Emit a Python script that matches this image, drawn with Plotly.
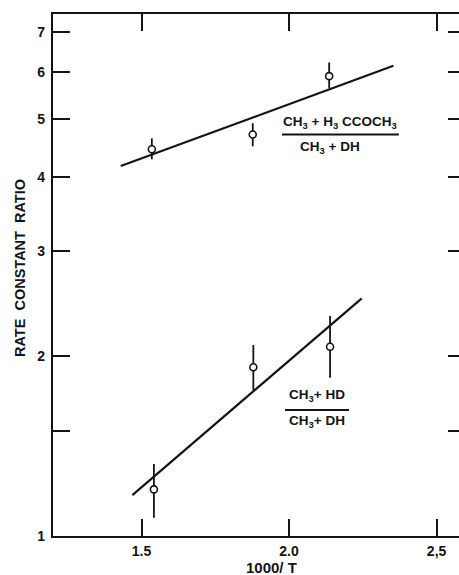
import numpy as np
import plotly.graph_objects as go

# Measured rate-constant ratios (log scale) vs 1000/T
x_acetone = [1.535, 1.877, 2.136]
y_acetone = [4.45, 4.71, 5.90]
err_hi_acetone = [4.64, 4.92, 6.22]
err_lo_acetone = [4.28, 4.50, 5.63]

x_hd = [1.542, 1.879, 2.139]
y_hd = [1.197, 1.918, 2.076]
err_hi_hd = [1.32, 2.09, 2.337]
err_lo_hd = [1.073, 1.757, 1.842]

# Least-squares lines drawn through each set
fit_x_acetone = [1.4295, 2.3536]
fit_y_acetone = [4.17, 6.14]
fit_x_hd = [1.469, 2.2464]
fit_y_hd = [1.171, 2.503]

x_tickvals = [1.5, 2.0, 2.5]
x_ticktext = ["1.5", "2.0", "2,5"]
y_tickvals = [1, 1.5, 2, 3, 4, 5, 6, 7]
y_ticktext = ["1", "", "2", "3", "4", "5", "6", "7"]

FONT = "Liberation Sans"
INK = "#141414"

fig = go.Figure()


def add_series(xs, ys, hi, lo, fx, fy):
    fig.add_trace(go.Scatter(x=fx, y=fy, mode="lines",
                             line=dict(color=INK, width=2.2),
                             hoverinfo="skip", showlegend=False))
    fig.add_trace(go.Scatter(
        x=xs, y=ys, mode="markers",
        marker=dict(symbol="circle", size=7, color="white",
                    line=dict(color=INK, width=1.6)),
        error_y=dict(type="data", symmetric=False,
                     array=[h - v for h, v in zip(hi, ys)],
                     arrayminus=[v - l for v, l in zip(ys, lo)],
                     width=0, thickness=1.8, color=INK),
        showlegend=False))


add_series(x_acetone, y_acetone, err_hi_acetone, err_lo_acetone,
           fit_x_acetone, fit_y_acetone)
add_series(x_hd, y_hd, err_hi_hd, err_lo_hd, fit_x_hd, fit_y_hd)

# invisible trace to carry the right-hand tick axis
fig.add_trace(go.Scatter(x=[1.3], y=[2], yaxis="y2", mode="markers",
                         marker=dict(opacity=0), hoverinfo="skip",
                         showlegend=False))

y_range = [0, np.log10(7.5)]
tick_font = dict(size=14, family=FONT, color=INK, weight="bold")

fig.update_layout(
    width=459, height=575,
    margin=dict(l=53, r=0, t=14, b=39),
    paper_bgcolor="white", plot_bgcolor="white",
    font=dict(family=FONT, color=INK),
    xaxis=dict(range=[1.2, 2.576], tickvals=x_tickvals, ticktext=x_ticktext,
               ticks="inside", ticklen=17, tickwidth=2, tickcolor=INK,
               showline=True, linewidth=2.2, linecolor=INK, mirror="ticks",
               showgrid=False, zeroline=False,
               tickfont=tick_font, ticklabelstandoff=1),
    yaxis=dict(type="log", range=y_range, tickvals=y_tickvals,
               ticktext=y_ticktext, ticks="inside", ticklen=17, tickwidth=2,
               tickcolor=INK, showline=True, linewidth=2.2, linecolor=INK,
               showgrid=False, zeroline=False,
               tickfont=tick_font, ticklabelstandoff=3),
    yaxis2=dict(type="log", range=y_range, tickvals=y_tickvals,
                overlaying="y", side="right", anchor="x",
                ticks="inside", ticklen=11, tickwidth=2, tickcolor=INK,
                showline=False, showgrid=False, zeroline=False,
                showticklabels=False),
)

ann_font = dict(family=FONT, size=13.5, color=INK, weight="bold")
annotations = [
    dict(text="CH<sub>3</sub> + H<sub>3</sub> CCOCH<sub>3</sub>",
         x=0.7069, y=0.7912),
    dict(text="CH<sub>3</sub> + DH", x=0.6823, y=0.7452),
    dict(text="CH<sub>3</sub>+ HD", x=0.650, y=0.2701),
    dict(text="CH<sub>3</sub>+ DH", x=0.650, y=0.219),
]
for a in annotations:
    fig.add_annotation(xref="paper", yref="paper", xanchor="center",
                       yanchor="middle", showarrow=False, font=ann_font, **a)

# fraction bars
for x0, x1, yy in [(0.564, 0.852, 0.7692), (0.5714, 0.729, 0.2414)]:
    fig.add_shape(type="line", xref="paper", yref="paper",
                  x0=x0, x1=x1, y0=yy, y1=yy,
                  line=dict(color=INK, width=2))

fig.add_annotation(text="1000/ T", xref="paper", yref="paper",
                   x=0.539, y=-0.0613, showarrow=False,
                   xanchor="center", yanchor="middle",
                   font=dict(family=FONT, size=15, color=INK, weight="bold"))
fig.add_annotation(text="RATE  CONSTANT  RATIO", xref="paper", yref="paper",
                   x=-0.0813, y=0.5134, textangle=-90, showarrow=False,
                   xanchor="center", yanchor="middle",
                   font=dict(family=FONT, size=14.5, color=INK,
                             weight="bold"))

fig.write_html("out.html")
